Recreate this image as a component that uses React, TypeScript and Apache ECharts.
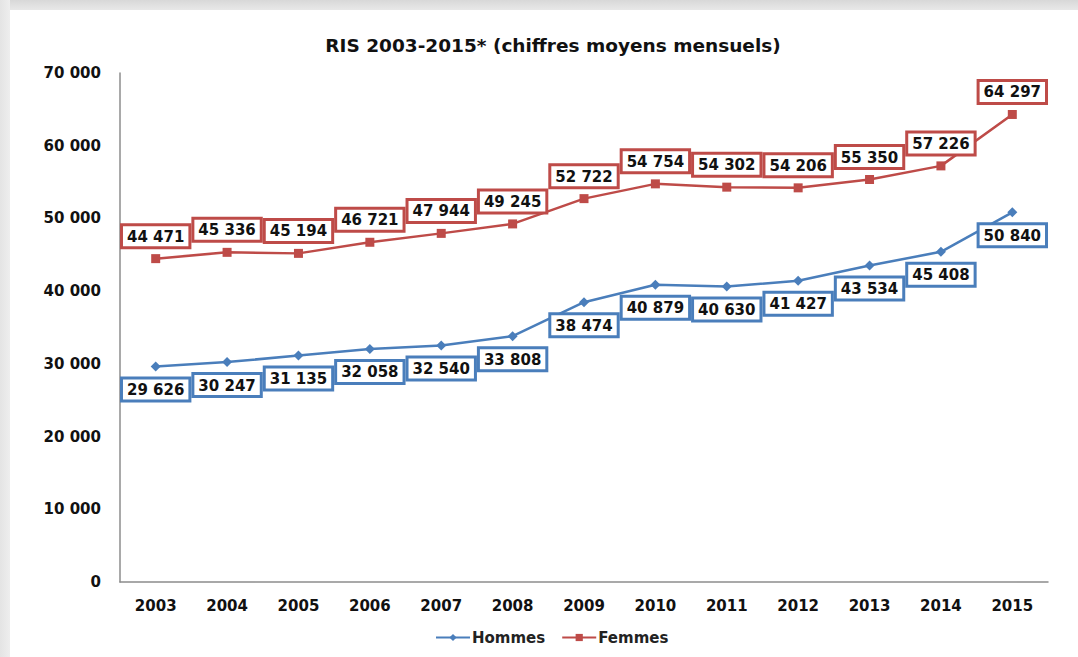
import React, { useEffect, useRef } from "react";
import * as echarts from "echarts";

const years = ["2003", "2004", "2005", "2006", "2007", "2008", "2009", "2010", "2011", "2012", "2013", "2014", "2015"];
const hommes = [29626, 30247, 31135, 32058, 32540, 33808, 38474, 40879, 40630, 41427, 43534, 45408, 50840];
const femmes = [44471, 45336, 45194, 46721, 47944, 49245, 52722, 54754, 54302, 54206, 55350, 57226, 64297];

const fmt = (v: number) => String(v).replace(/\B(?=(\d{3})+(?!\d))/g, " ");
const FONT = "'DejaVu Sans', sans-serif";

export default function App() {
  const ref = useRef<HTMLDivElement>(null);
  useEffect(() => {
    if (!ref.current) return;
    const chart = echarts.init(ref.current, undefined, { renderer: "svg" });
    const labelStyle = (color: string, pos: "top" | "bottom") => ({
      show: true,
      position: pos,
      distance: 8,
      formatter: (p: any) => fmt(p.value),
      color: "#111",
      fontFamily: FONT,
      fontWeight: "bold",
      fontSize: 15,
      lineHeight: 17,
      backgroundColor: "#fff",
      borderColor: color,
      borderWidth: 3,
      padding: [2, 4, 1, 4],
    });
    chart.setOption({
      animation: false,
      backgroundColor: "#ffffff",
      graphic: [
        {
          type: "rect",
          z: -10,
          silent: true,
          shape: { x: 0, y: 0, width: 1078, height: 10 },
          style: {
            fill: new echarts.graphic.LinearGradient(0, 0, 0, 1, [
              { offset: 0, color: "#d8d8d8" },
              { offset: 1, color: "#e8e8e8" },
            ]),
          },
        },
        {
          type: "rect",
          z: -10,
          silent: true,
          shape: { x: 0, y: 0, width: 10, height: 657 },
          style: {
            fill: new echarts.graphic.LinearGradient(0, 0, 1, 0, [
              { offset: 0, color: "#e4e4e4" },
              { offset: 1, color: "#eeeeee" },
            ]),
          },
        },
      ],
      title: {
        text: "RIS 2003-2015* (chiffres moyens mensuels)",
        left: 548,
        textAlign: "center",
        top: 31,
        textStyle: { fontFamily: FONT, fontWeight: "bold", fontSize: 18.5, color: "#111" },
      },
      legend: {
        bottom: 7,
        left: 430,
        itemWidth: 34,
        itemHeight: 9,
        itemGap: 16,
        textStyle: { fontFamily: FONT, fontSize: 15, color: "#222", fontWeight: "bold", padding: [0, 0, 0, -3] },
        data: ["Hommes", "Femmes"],
      },
      grid: { left: 120, right: 30, top: 73, bottom: 75 },
      xAxis: {
        type: "category",
        data: years,
        boundaryGap: true,
        axisLine: { lineStyle: { color: "#8c8c8c", width: 1.5 } },
        axisTick: { show: false },
        axisLabel: { margin: 16, fontFamily: FONT, fontWeight: "bold", fontSize: 15, color: "#111" },
      },
      yAxis: {
        type: "value",
        min: 0,
        max: 70000,
        interval: 10000,
        axisLine: { show: true, lineStyle: { color: "#8c8c8c", width: 1.5 } },
        axisTick: { show: false },
        splitLine: { show: false },
        axisLabel: { margin: 19, formatter: (v: number) => fmt(v), fontFamily: FONT, fontWeight: "bold", fontSize: 15, color: "#111" },
      },
      series: [
        {
          name: "Hommes",
          type: "line",
          data: hommes,
          color: "#4a7ebb",
          symbol: "diamond",
          symbolSize: 10,
          lineStyle: { width: 2.5, color: "#4a7ebb" },
          itemStyle: { color: "#4a7ebb" },
          label: labelStyle("#4a7ebb", "bottom"),
        },
        {
          name: "Femmes",
          type: "line",
          data: femmes,
          color: "#be4b48",
          symbol: "rect",
          symbolSize: 9,
          lineStyle: { width: 2.5, color: "#be4b48" },
          itemStyle: { color: "#be4b48" },
          label: labelStyle("#be4b48", "top"),
        },
      ],
    });
    return () => chart.dispose();
  }, []);
  return <div ref={ref} style={{ position: "absolute", left: 0, top: 0, width: 1078, height: 657 }} />;
}
